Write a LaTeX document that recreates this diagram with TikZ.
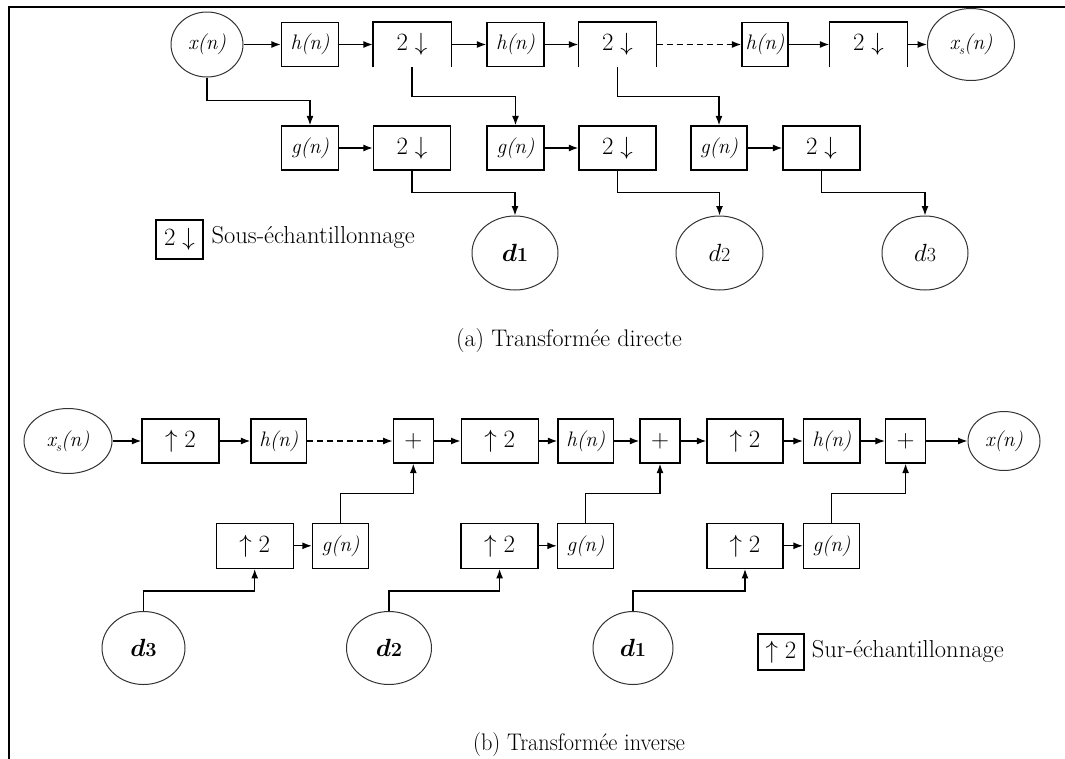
\documentclass[tikz,border=0pt]{standalone}
\usepackage{fontspec}
\usepackage{bm}
\usetikzlibrary{arrows.meta,shapes.geometric,calc}
% coefficient label: italic d with a smaller index
\newcommand\coefbold[1]{{\fontsize{28}{30}\selectfont$\bm{d}$}{\fontsize{20}{22}\selectfont\bfseries #1}}
\newcommand\coefplain[1]{{\fontsize{28}{30}\selectfont$d$}{\fontsize{20}{22}\selectfont #1}}
\newcommand\xsub{x\raisebox{-0.25em}{\fontsize{13}{14}\selectfont s}(n)}

\begin{document}
\begin{tikzpicture}[x=1pt,y=-1pt,
  blk/.style={draw,line width=1.3pt,inner sep=0pt,minimum height=44pt},
  filt/.style={blk,minimum width=56pt,font=\itshape\fontsize{21}{24}\selectfont},
  rate/.style={blk,minimum width=77pt,font=\fontsize{26}{30}\selectfont},
  openrate/.style={rate,draw=none},
  sumblk/.style={blk,minimum width=40pt,font=\fontsize{26}{30}\selectfont},
  sig/.style={ellipse,draw=black!80,line width=1pt,inner sep=0pt,font=\itshape\fontsize{21}{24}\selectfont},
  coef/.style={ellipse,draw=black!80,line width=1pt,inner sep=0pt},
  wire/.style={line width=1.3pt,-{Latex[length=9.5pt,width=7pt]}},
  dashwire/.style={wire,dash pattern=on 6pt off 4pt},
  legbox/.style={draw,line width=1.3pt,inner sep=0pt,font=\fontsize{26}{30}\selectfont},
  legtext/.style={anchor=base west,inner sep=0pt,font=\fontsize{24.5}{28}\selectfont},
  caption/.style={anchor=base,inner sep=0pt,font=\fontsize{24}{28}\selectfont}]
\useasboundingbox (0,0) rectangle (1065,758);

% frame lines
\draw[line width=2.8pt] (9,760) -- (9,7) -- (1066,7);

% ---------- (a) analysis bank ----------
\node[sig,minimum width=72pt,minimum height=65pt] (x) at (207,44.5) {x(n)};
\node[filt,minimum width=57pt] (h1) at (310,44.5) {h(n)};
\node[openrate] (dA) at (412,44.5) {$2\downarrow$};
\node[filt,minimum width=57pt] (h2) at (515.5,44.5) {h(n)};
\node[openrate] (dB) at (617.5,44.5) {$2\downarrow$};
\node[filt,minimum width=46pt] (h3) at (765,44.5) {h(n)};
\node[openrate] (dC) at (868.5,44.5) {$2\downarrow$};
\node[sig,minimum width=87pt,minimum height=72pt] (xs) at (971,44.5) {\xsub};
\draw[line width=1.3pt] (dA.south west) -- (dA.north west) -- (dA.north east) -- (dA.south east);
\draw[line width=1.3pt] (dB.south west) -- (dB.north west) -- (dB.north east) -- (dB.south east);
\draw[line width=1.3pt] (dC.south west) -- (dC.north west) -- (dC.north east) -- (dC.south east);

\node[filt,minimum width=57pt] (g1) at (310,148) {g(n)};
\node[rate] (dD) at (412,148) {$2\downarrow$};
\node[filt,minimum width=57pt] (g2) at (515.5,148) {g(n)};
\node[rate] (dE) at (617.5,148) {$2\downarrow$};
\node[filt,minimum width=56pt] (g3) at (719,148) {g(n)};
\node[rate] (dF) at (821.5,148) {$2\downarrow$};

\node[coef,minimum width=86pt,minimum height=74pt] (c1) at (515,253) {\coefbold{1}};
\node[coef,minimum width=87pt,minimum height=74pt] (c2) at (719.5,253) {\coefplain{2}};
\node[coef,minimum width=86pt,minimum height=74pt] (c3) at (925,253) {\coefplain{3}};

\draw[wire] (x) -- (h1);
\draw[wire] (h1) -- (dA);
\draw[wire] (dA) -- (h2);
\draw[wire] (h2) -- (dB);
\draw[dashwire] (dB) -- (h3);
\draw[wire] (h3) -- (dC);
\draw[wire] (dC) -- (xs);
\draw[wire] (g1) -- (dD);
\draw[wire] (g2) -- (dE);
\draw[wire] (g3) -- (dF);

\draw[wire] (x.south) |- ($(g1.north)+(0,-25)$) -- (g1.north);
\draw[wire] (dA.south) |- ($(g2.north)+(0,-29)$) -- (g2.north);
\draw[wire] (dB.south) |- ($(g3.north)+(0,-29)$) -- (g3.north);
\draw[wire] (dD.south) |- ($(c1.north)+(0,-23)$) -- (c1.north);
\draw[wire] (dE.south) |- ($(c2.north)+(0,-23)$) -- (c2.north);
\draw[wire] (dF.south) |- ($(c3.north)+(0,-23)$) -- (c3.north);

\node[legbox,minimum width=47pt,minimum height=39pt] (legA) at (179.5,239.5) {$2\downarrow$};
\node[legtext] (legAt) at (211.5,243.5) {Sous-échantillonnage};

\node[caption] (capA) at (569,346) {(a) Transformée directe};

% ---------- (b) synthesis bank ----------
\node[sig,minimum width=88pt,minimum height=65pt] (xs2) at (68,441) {\xsub};
\node[rate] (u1) at (180.5,441) {$\uparrow 2$};
\node[filt,minimum width=55.5pt] (hb1) at (278.75,441) {h(n)};
\node[sumblk] (p1) at (413.3,441) {$+$};
\node[rate] (u2) at (499.7,441) {$\uparrow 2$};
\node[filt,minimum width=55.6pt] (hb2) at (585.8,441) {h(n)};
\node[sumblk] (p2) at (660,441) {$+$};
\node[rate,minimum width=76pt] (u3) at (745,441) {$\uparrow 2$};
\node[filt,minimum width=56.4pt] (hb3) at (831.8,441) {h(n)};
\node[sumblk] (p3) at (905.6,441) {$+$};
\node[sig,minimum width=72pt,minimum height=59pt] (xo) at (1004,441) {x(n)};

\node[rate,minimum height=45pt] (v1) at (254.7,545.8) {$\uparrow 2$};
\node[filt,minimum width=56pt,minimum height=45pt] (gb1) at (340.5,545.8) {g(n)};
\node[rate,minimum height=45pt] (v2) at (499.6,545.8) {$\uparrow 2$};
\node[filt,minimum width=56pt,minimum height=45pt] (gb2) at (585.5,545.8) {g(n)};
\node[rate,minimum width=76pt,minimum height=45pt] (v3) at (745,545.8) {$\uparrow 2$};
\node[filt,minimum width=56pt,minimum height=45pt] (gb3) at (831.5,545.8) {g(n)};

\node[coef,minimum width=83pt,minimum height=73pt] (e3) at (143.5,648) {\coefbold{3}};
\node[coef,minimum width=85pt,minimum height=73pt] (e2) at (389,648) {\coefbold{2}};
\node[coef,minimum width=80pt,minimum height=73pt] (e1) at (633,648) {\coefbold{1}};

\draw[wire] (xs2) -- (u1);
\draw[wire] (u1) -- (hb1);
\draw[dashwire] (hb1) -- (p1);
\draw[wire] (p1) -- (u2);
\draw[wire] (u2) -- (hb2);
\draw[wire] (hb2) -- (p2);
\draw[wire] (p2) -- (u3);
\draw[wire] (u3) -- (hb3);
\draw[wire] (hb3) -- (p3);
\draw[wire] (p3) -- (xo);
\draw[wire] (v1) -- (gb1);
\draw[wire] (v2) -- (gb2);
\draw[wire] (v3) -- (gb3);

\draw[wire] (gb1.north) |- ($(p1.south)+(0,30)$) -- (p1.south);
\draw[wire] (gb2.north) |- ($(p2.south)+(0,30)$) -- (p2.south);
\draw[wire] (gb3.north) |- ($(p3.south)+(0,30)$) -- (p3.south);
\draw[wire] (e3.north) |- ($(v1.south)+(0,22)$) -- (v1.south);
\draw[wire] (e2.north) |- ($(v2.south)+(0,22)$) -- (v2.south);
\draw[wire] (e1.north) |- ($(v3.south)+(0,22)$) -- (v3.south);

\node[legbox,minimum width=46pt,minimum height=36pt] (legB) at (781,652) {$\uparrow 2$};
\node[legtext] (legBt) at (811.7,657.5) {Sur-échantillonnage};

\node[caption] (capB) at (579,750) {\scalebox{0.93}[1]{(b) Transformée inverse}};
\end{tikzpicture}
\end{document}
